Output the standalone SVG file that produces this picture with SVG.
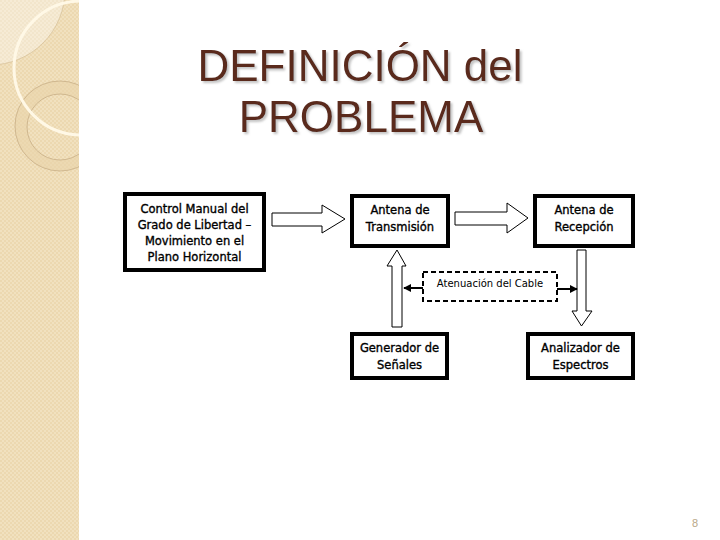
<svg xmlns="http://www.w3.org/2000/svg" width="720" height="540" viewBox="0 0 720 540">
<defs>
<pattern id="chk" width="4" height="4" patternUnits="userSpaceOnUse">
<rect width="4" height="4" fill="#F1E1BF"/>
<rect width="2" height="2" fill="#ECD8B0"/>
<rect x="2" y="2" width="2" height="2" fill="#ECD8B0"/>
</pattern>
<clipPath id="side"><rect x="0" y="0" width="79" height="540"/></clipPath>
<marker id="ah" viewBox="0 0 10 10" refX="9" refY="5" markerWidth="4" markerHeight="4" orient="auto" markerUnits="strokeWidth">
<path d="M0,0 L10,5 L0,10 z" fill="#000"/>
</marker>
<filter id="sh" x="-5%" y="-5%" width="110%" height="120%">
<feDropShadow dx="2" dy="2" stdDeviation="0.8" flood-color="#999" flood-opacity="0.6"/>
</filter>
</defs>
<style>
.box{fill:#fff;stroke:#000;stroke-width:4}
.blk{fill:#fff;stroke:#000;stroke-width:1}
.t{font-family:"DejaVu Sans","Liberation Sans",sans-serif;font-size:11.5px;fill:#000;stroke:#000;stroke-width:0.35;text-anchor:middle}
.ttl{font-family:"Liberation Sans",Arial,sans-serif;font-size:44px;fill:#5A2A1C;text-anchor:middle}
.con{stroke:#000;stroke-width:2;fill:none}
</style>
<rect width="720" height="540" fill="#fff"/>
<g id="sidebar" clip-path="url(#side)">
<rect x="0" y="0" width="79" height="540" fill="url(#chk)"/>
<circle cx="-10" cy="-10" r="75" fill="#FFFFFF" fill-opacity="0.35" stroke="#D8C39C" stroke-width="0.8"/>
<circle cx="60" cy="126" r="45" fill="#E9D4AA" fill-opacity="0.6" stroke="#C8AE86" stroke-width="0.8"/>
<circle cx="60" cy="127" r="33" fill="url(#chk)" stroke="#C8AE86" stroke-width="0.8"/>
<circle cx="81" cy="68" r="67" fill="none" stroke="#FFF8E6" stroke-width="3"/>
</g>
<g id="title" filter="url(#sh)">
<text class="ttl" x="360" y="81">DEFINICIÓN del</text>
<text class="ttl" x="361" y="132">PROBLEMA</text>
</g>
<g id="connectors">
<polygon class="blk" points="272,213 322,213 322,205 345,219 322,233 322,226 272,226"/>
<polygon class="blk" points="455,212 507,212 507,203 528,218 507,233 507,225 455,225"/>
<polygon class="blk" points="392,327 392,266 387,266 397,250 406,266 402,266 402,327"/>
<polygon class="blk" points="577,250 586,250 586,311 592,311 581.5,326 572,311 577,311"/>
<line class="con" x1="423" y1="288" x2="404" y2="288" marker-end="url(#ah)"/>
<line class="con" x1="557" y1="289" x2="577" y2="289" marker-end="url(#ah)"/>
</g>
<g id="n-control">
<rect class="box" x="125" y="194" width="139" height="76"/>
<text class="t" x="194.5" y="213">Control Manual del</text>
<text class="t" x="194.5" y="229">Grado de Libertad –</text>
<text class="t" x="194.5" y="245">Movimiento en el</text>
<text class="t" x="194.5" y="261">Plano Horizontal</text>
</g>
<g id="n-tx">
<rect class="box" x="352" y="196" width="96" height="50"/>
<text class="t" x="400" y="214">Antena de</text>
<text class="t" x="400" y="231">Transmisión</text>
</g>
<g id="n-rx">
<rect class="box" x="535" y="196" width="98" height="50"/>
<text class="t" x="584" y="214">Antena de</text>
<text class="t" x="584" y="231">Recepción</text>
</g>
<g id="n-cable">
<rect x="423" y="272" width="134" height="29" fill="#fff" stroke="#000" stroke-width="2" stroke-dasharray="5 3"/>
<text x="490" y="287" style="font-family:'DejaVu Sans','Liberation Sans',sans-serif;font-size:10px;text-anchor:middle">Atenuación del Cable</text>
</g>
<g id="n-gen">
<rect class="box" x="352" y="334" width="95" height="44"/>
<text class="t" x="399.5" y="352">Generador de</text>
<text class="t" x="399.5" y="369">Señales</text>
</g>
<g id="n-ana">
<rect class="box" x="528" y="334" width="105" height="44"/>
<text class="t" x="580.5" y="352">Analizador de</text>
<text class="t" x="580.5" y="369">Espectros</text>
</g>
<text x="695" y="527" style="font-family:'Liberation Sans',sans-serif;font-size:11px;fill:#B8A888;text-anchor:middle">8</text>
</svg>
